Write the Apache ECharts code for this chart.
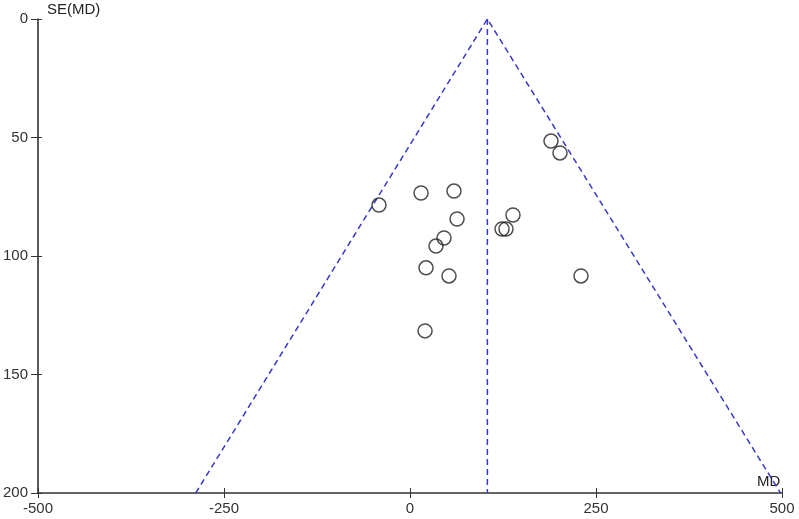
<!DOCTYPE html>
<html>
<head>
<meta charset="UTF-8">
<title>funnel plot</title>
<script src="https://cdn.jsdelivr.net/npm/echarts@6/dist/echarts.min.js"></script>
<style>
  * { margin: 0; padding: 0; }
  html, body { width: 799px; height: 519px; background: #fff; }
  #chart { width: 799px; height: 519px; }
</style>
</head>
<body>
<div id="chart"></div>
<script>
  // study estimates: mean difference and its standard error
  const md = [189.5, 201.6, -41.7, 14.8, 59.1, 63.2, 138.4, 123.7, 129.0, 45.7, 34.9, 21.5, 52.4, 229.8, 20.2]
  const se = [51.5, 56.5, 78.5, 73.4, 72.6, 84.4, 82.7, 88.6, 88.6, 92.4, 95.8, 105.0, 108.4, 108.4, 131.6]

  // pseudo confidence limits and pooled estimate
  const funnelX = [-288, 104, 498]
  const funnelY = [200, 0, 200]
  const pooledX = [104, 104]
  const pooledY = [0, 200]

  const xTicks = [-500, -250, 0, 250, 500]
  const yTicks = [0, 50, 100, 150, 200]

  const font = 'Liberation Sans, Arial, sans-serif'
  const dash = { type: [6, 4], color: '#3838cc', width: 1.5 }

  const chart = echarts.init(document.getElementById('chart'))

  const xBase = {
    type: 'value',
    min: xTicks[0],
    max: xTicks[xTicks.length - 1],
    interval: 250,
    splitLine: { show: false },
    position: 'bottom'
  }
  const yBase = {
    type: 'value',
    inverse: true,
    min: yTicks[0],
    max: yTicks[yTicks.length - 1],
    interval: 50,
    splitLine: { show: false },
    position: 'left'
  }

  chart.setOption({
    animation: false,
    grid: { left: 38, right: 17, top: 19, bottom: 26 },
    xAxis: [
      Object.assign({}, xBase, {
        axisLine: { onZero: false, lineStyle: { color: '#333', width: 1.5 } },
        axisTick: { length: 5, lineStyle: { color: '#333' } },
        axisLabel: { color: '#333', fontSize: 15, fontFamily: font, margin: 8 }
      }),
      Object.assign({}, xBase, {
        axisLine: { show: false, onZero: false },
        axisTick: { inside: true, length: 5, lineStyle: { color: '#333' } },
        axisLabel: { show: false }
      })
    ],
    yAxis: [
      Object.assign({}, yBase, {
        axisLine: { onZero: false, lineStyle: { color: '#222', width: 1.5 } },
        axisTick: { length: 7, lineStyle: { color: '#333' } },
        axisLabel: { color: '#333', fontSize: 15, fontFamily: font, margin: 10 }
      }),
      Object.assign({}, yBase, {
        axisLine: { show: false, onZero: false },
        axisTick: { inside: true, length: 4, lineStyle: { color: '#333' } },
        axisLabel: { show: false }
      })
    ],
    graphic: [
      { type: 'text', left: 47, top: 2, style: { text: 'SE(MD)', fill: '#222', font: '15px ' + font } },
      { type: 'text', left: 757, top: 474, style: { text: 'MD', fill: '#222', font: '15px ' + font } }
    ],
    series: [
      {
        type: 'line',
        data: funnelX.map((x, i) => [x, funnelY[i]]),
        symbol: 'none',
        lineStyle: dash,
        z: 1
      },
      {
        type: 'line',
        data: pooledX.map((x, i) => [x, pooledY[i]]),
        symbol: 'none',
        lineStyle: dash,
        z: 1
      },
      {
        type: 'scatter',
        data: md.map((x, i) => [x, se[i]]),
        symbol: 'circle',
        symbolSize: 14,
        itemStyle: { color: 'rgba(255,255,255,0)', borderColor: '#222', borderWidth: 1.5 },
        z: 3
      }
    ]
  })
</script>
</body>
</html>
